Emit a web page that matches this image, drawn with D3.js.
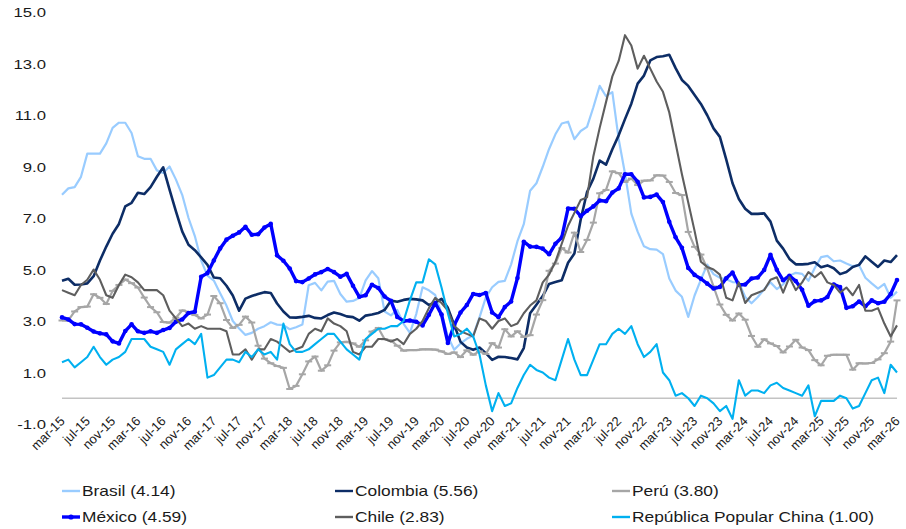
<!DOCTYPE html>
<html><head><meta charset="utf-8">
<script src="https://cdn.jsdelivr.net/npm/d3@7"></script>
<style>
body{margin:0;background:#fff;}
text{font-family:"Liberation Sans",Arial,sans-serif;fill:#1a1a1a;}
</style>
</head><body>
<svg id="chart" width="906" height="529"></svg>
<script>
// Monthly data, mar-15 ... mar-26 (133 months)
const tickLabels = ["mar-15","jul-15","nov-15","mar-16","jul-16","nov-16","mar-17","jul-17","nov-17",
  "mar-18","jul-18","nov-18","mar-19","jul-19","nov-19","mar-20","jul-20","nov-20","mar-21","jul-21","nov-21",
  "mar-22","jul-22","nov-22","mar-23","jul-23","nov-23","mar-24","jul-24","nov-24","mar-25","jul-25","nov-25","mar-26"];
const yTicks = [15, 13, 11, 9, 7, 5, 3, 1, -1];

const brasil = [7.9,8.15,8.2,8.6,9.5,9.5,9.5,9.9,10.5,10.7,
  10.7,10.3,9.4,9.3,9.3,8.85,8.75,9.0,8.5,7.9,7.0,6.3,
  5.35,4.76,4.57,4.08,3.6,3.0,2.71,2.46,2.54,2.7,2.8,2.95,
  2.86,2.84,2.68,2.76,2.86,4.39,4.48,4.19,4.53,4.56,4.05,3.75,
  3.78,3.89,4.58,4.94,4.66,3.37,3.22,3.43,2.89,2.54,3.27,4.31,
  4.19,4.01,3.3,2.4,1.88,2.13,2.31,2.44,3.14,3.92,4.31,4.52,
  4.56,5.2,6.1,6.76,8.06,8.35,8.99,9.68,10.25,10.67,10.74,10.06,
  10.38,10.54,11.3,12.13,11.73,11.89,10.07,8.73,7.17,6.47,5.9,5.79,
  5.77,5.6,4.65,4.18,3.94,3.16,3.99,4.61,5.19,4.82,4.68,4.62,
  4.51,4.5,3.93,3.69,3.93,4.23,4.5,4.24,4.42,4.76,4.87,4.83,
  4.56,5.06,5.48,5.53,5.32,5.35,5.23,5.13,5.17,4.68,4.46,4.26,
  4.44,3.9,4.14];
const colombia = [4.56,4.64,4.41,4.42,4.46,4.74,5.35,5.89,6.39,6.77,
  7.45,7.59,7.98,7.93,8.20,8.60,8.97,8.10,7.27,6.48,5.96,5.75,
  5.47,5.18,4.69,4.66,4.37,3.99,3.40,3.87,3.97,4.05,4.12,4.09,
  3.68,3.37,3.14,3.13,3.16,3.20,3.12,3.10,3.23,3.33,3.27,3.18,
  3.15,3.01,3.21,3.25,3.31,3.43,3.79,3.75,3.82,3.86,3.84,3.80,
  3.62,3.72,3.86,3.51,2.85,2.19,1.97,1.88,1.97,1.75,1.49,1.61,
  1.60,1.56,1.51,1.95,3.30,3.63,3.97,4.44,4.51,4.58,5.26,5.62,
  6.94,8.01,8.53,9.23,9.07,9.67,10.21,10.84,11.44,12.22,12.53,13.12,
  13.25,13.28,13.34,12.82,12.36,12.13,11.78,11.43,10.99,10.48,10.15,9.28,
  8.35,7.74,7.36,7.16,7.16,7.18,6.86,6.12,5.81,5.41,5.20,5.20,
  5.22,5.28,5.09,5.16,5.05,4.82,4.90,5.10,5.18,5.51,5.30,5.10,
  5.35,5.29,5.56];
const peru = [3.02,3.02,3.37,3.54,3.56,4.04,3.90,3.66,4.17,4.40,
  4.61,4.47,4.30,3.91,3.54,3.34,2.96,2.94,3.13,3.41,3.35,3.23,
  3.10,3.25,3.97,3.69,3.04,2.73,2.85,3.17,2.94,2.04,1.54,1.36,
  1.25,1.18,0.36,0.48,0.93,1.43,1.62,1.07,1.28,1.85,2.17,2.19,
  2.13,2.00,2.25,2.59,2.73,2.29,2.25,2.04,1.85,1.87,1.87,1.90,
  1.90,1.89,1.82,1.72,1.78,1.60,1.86,1.69,1.82,1.72,2.14,1.97,
  2.68,2.40,2.60,2.38,2.45,3.25,3.81,4.95,5.23,5.83,5.66,6.43,
  5.68,6.15,6.82,7.96,8.09,8.81,8.74,8.40,8.53,8.28,8.45,8.46,
  8.66,8.65,8.40,7.97,7.89,6.46,5.88,5.58,5.04,4.34,3.64,3.24,
  3.02,3.29,3.05,2.42,2.00,2.29,2.13,2.03,1.78,2.01,2.27,1.97,
  1.87,1.48,1.28,1.65,1.69,1.69,1.69,1.11,1.36,1.35,1.37,1.51,
  1.75,2.2,3.80];
const mexico = [3.14,3.06,2.88,2.87,2.74,2.59,2.52,2.48,2.21,2.13,
  2.61,2.87,2.60,2.54,2.60,2.54,2.65,2.73,2.97,3.06,3.31,3.36,
  4.72,4.86,5.35,5.82,6.16,6.31,6.44,6.66,6.35,6.37,6.63,6.77,
  5.55,5.34,5.04,4.55,4.51,4.65,4.81,4.90,5.02,4.90,4.72,4.83,
  4.37,3.94,4.00,4.41,4.28,3.95,3.78,3.16,3.00,3.02,2.97,2.83,
  3.24,3.70,3.25,2.15,2.84,3.33,3.62,4.05,4.01,4.09,3.33,3.15,
  3.54,3.76,4.67,6.08,5.89,5.88,5.81,5.59,6.00,6.24,7.37,7.36,
  7.07,7.28,7.45,7.68,7.65,7.99,8.15,8.70,8.70,8.41,7.80,7.82,
  7.91,7.62,6.85,6.25,5.84,5.06,4.79,4.64,4.45,4.26,4.32,4.66,
  4.88,4.40,4.42,4.65,4.69,4.98,5.57,4.99,4.58,4.76,4.55,4.21,
  3.59,3.77,3.80,3.93,4.42,4.32,3.51,3.57,3.76,3.57,3.80,3.69,
  3.75,4.05,4.59];
const chile = [4.2,4.1,4.0,4.4,4.6,5.0,4.6,4.0,3.9,4.4,
  4.8,4.7,4.5,4.2,4.2,4.2,4.0,3.4,3.1,2.8,2.9,2.7,
  2.8,2.7,2.7,2.7,2.6,1.7,1.7,1.9,1.5,1.9,1.9,2.3,
  2.2,2.0,1.8,1.9,2.0,2.5,2.7,2.6,3.1,2.9,2.8,2.6,
  1.8,1.7,2.0,2.0,2.3,2.3,2.2,2.3,2.1,2.5,2.7,3.0,
  3.5,3.9,3.7,3.4,2.8,2.6,2.5,2.4,3.1,3.0,2.7,3.0,
  3.1,2.8,2.9,3.3,3.6,3.8,4.5,4.8,5.3,6.0,6.7,7.2,
  7.7,7.8,9.4,10.5,11.5,12.5,13.1,14.1,13.7,12.8,13.3,12.8,
  12.3,11.9,11.1,9.9,8.7,7.6,6.5,5.3,5.1,5.0,4.8,3.9,
  3.8,4.5,3.7,4.0,4.1,4.2,4.6,4.7,4.1,4.7,4.2,4.5,
  4.9,4.7,4.9,4.5,4.4,4.1,4.3,4.0,4.4,3.4,3.4,3.5,
  2.9,2.4,2.83];
const china = [1.4,1.5,1.2,1.4,1.6,2.0,1.6,1.3,1.5,1.6,
  1.8,2.3,2.3,2.3,2.0,1.9,1.8,1.3,1.9,2.1,2.3,2.1,
  2.5,0.8,0.9,1.2,1.5,1.5,1.4,1.8,1.6,1.9,1.7,1.8,
  1.5,2.9,2.1,1.8,1.8,1.9,2.1,2.3,2.5,2.5,2.2,1.9,
  1.7,1.5,2.3,2.5,2.7,2.7,2.8,2.8,3.0,3.8,4.5,4.5,
  5.4,5.2,4.3,3.3,2.4,2.5,2.7,2.4,1.7,0.5,-0.5,0.2,
  -0.3,-0.2,0.4,0.9,1.3,1.1,1.0,0.8,0.7,1.5,2.3,1.5,
  0.9,0.9,1.5,2.1,2.1,2.5,2.7,2.5,2.8,2.1,1.6,1.8,
  2.1,1.0,0.7,0.1,0.2,0.0,-0.3,0.1,0.0,-0.2,-0.5,-0.3,
  -0.8,0.7,0.1,0.3,0.3,0.2,0.5,0.6,0.4,0.3,0.2,0.1,
  0.5,-0.7,-0.1,-0.1,-0.1,0.1,0.0,-0.4,-0.3,0.2,0.7,0.8,
  0.2,1.3,1.0];

const seriesNames = ["Brasil (4.14)","Colombia (5.56)","Perú (3.80)","México (4.59)","Chile (2.83)","República Popular China (1.00)"];
const seriesData = [brasil, colombia, peru, mexico, chile, china];
const seriesColors = ["#99ccff","#0d2d66","#a6a6a6","#0000ff","#5e5e5e","#00b0f0"];
const seriesWidths = [2.2, 2.6, 2.2, 3.4, 2.1, 2.1];

const svg = d3.select("#chart");
const n = brasil.length;
const x = d3.scaleLinear().domain([0, n - 1]).range([62, 897]);
const y = d3.scaleLinear().domain([-1, 15]).range([424, 12]);
const SX = 1.24; // horizontal stretch of text as in reference

// zero line
svg.append("line").attr("x1", x(0)).attr("x2", x(n - 1))
  .attr("y1", y(0)).attr("y2", y(0)).attr("stroke", "#c3c3c3").attr("stroke-width", 1.6);

// y axis
const yAxis = d3.axisLeft(y).tickValues(yTicks).tickFormat(v => v.toFixed(1)).tickSize(0).tickPadding(0);
const gy = svg.append("g").attr("transform", "translate(46,0)").call(yAxis);
gy.select(".domain").remove();
gy.selectAll("text").attr("x", 0).attr("dy", "0.35em")
  .attr("transform", `scale(${SX},1)`).style("font-size", "13.5px")
  .style("font-family", '"Liberation Sans",Arial,sans-serif').attr("fill", "#1a1a1a");

// x axis
const xAxis = d3.axisBottom(x).tickValues(d3.range(0, n, 4)).tickFormat(i => tickLabels[i / 4]).tickSize(0).tickPadding(0);
const gx = svg.append("g").attr("transform", "translate(0,405)").call(xAxis);
gx.select(".domain").remove();
gx.selectAll("text").attr("x", 0).attr("y", 0).attr("dy", null)
  .attr("text-anchor", "end")
  .attr("transform", "translate(3,17) rotate(-45)")
  .style("font-size", "13px").style("font-family", '"Liberation Sans",Arial,sans-serif').attr("fill", "#1a1a1a");

// lines
const line = d3.line().x((d, i) => x(i)).y(d => y(d));
seriesData.forEach((data, k) => {
  svg.append("path").datum(data).attr("d", line)
    .attr("fill", "none").attr("stroke", seriesColors[k]).attr("stroke-width", seriesWidths[k])
    .attr("stroke-linejoin", "round");
  if (k === 2) {
    svg.append("g").selectAll("line").data(data).join("line")
      .attr("x1", (d, i) => x(i) - 3.5).attr("x2", (d, i) => x(i) + 3.5)
      .attr("y1", d => y(d)).attr("y2", d => y(d))
      .attr("stroke", seriesColors[k]).attr("stroke-width", 2);
  }
  if (k === 3) {
    svg.append("g").selectAll("circle").data(data).join("circle")
      .attr("cx", (d, i) => x(i)).attr("cy", d => y(d)).attr("r", 2.3)
      .attr("fill", seriesColors[k]);
  }
});

// legend
const legX = [62, 335, 612];
const legY = [491, 517];
seriesNames.forEach((name, k) => {
  const lx = legX[k % 3], ly = legY[Math.floor(k / 3)];
  const g = svg.append("g").attr("transform", `translate(${lx},${ly})`);
  g.append("line").attr("x1", 0).attr("x2", 18).attr("y1", 0).attr("y2", 0)
    .attr("stroke", seriesColors[k]).attr("stroke-width", k === 3 ? 3.4 : 2.4);
  if (k === 3) g.append("circle").attr("cx", 9).attr("cy", 0).attr("r", 2.6).attr("fill", seriesColors[k]);
  g.append("text").attr("x", 0).attr("y", 0).attr("dy", "0.35em")
    .attr("transform", `translate(20,0) scale(${SX},1)`)
    .style("font-size", "14px").text(name);
});
</script>
</body></html>
